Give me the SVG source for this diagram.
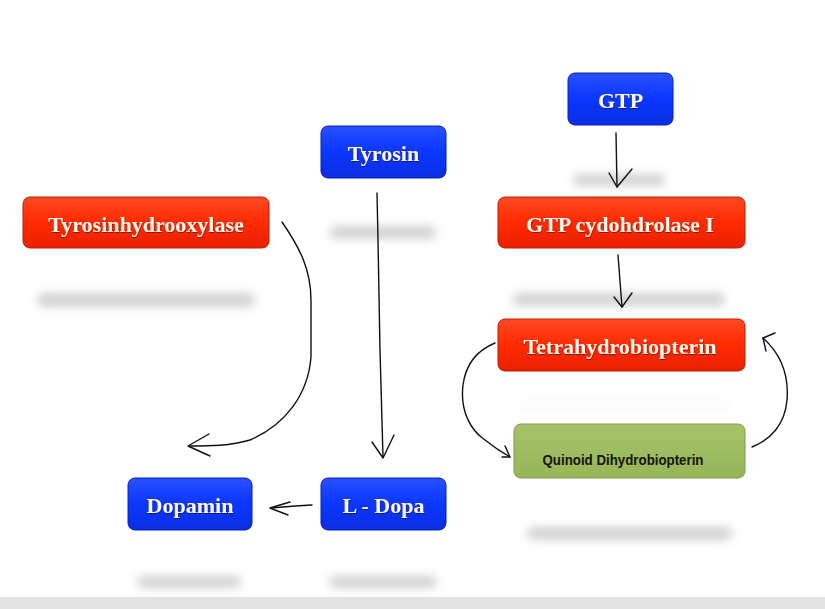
<svg xmlns="http://www.w3.org/2000/svg" width="825" height="609" viewBox="0 0 825 609">
<defs>
<linearGradient id="gRed" x1="0" y1="0" x2="0" y2="1">
<stop offset="0" stop-color="#ff4a26"/><stop offset="0.5" stop-color="#ff2a00"/><stop offset="1" stop-color="#e82000"/>
</linearGradient>
<linearGradient id="gBlue" x1="0" y1="0" x2="0" y2="1">
<stop offset="0" stop-color="#2a50ff"/><stop offset="0.5" stop-color="#0a36ff"/><stop offset="1" stop-color="#0a2ee0"/>
</linearGradient>
<linearGradient id="gGreen" x1="0" y1="0" x2="0" y2="1">
<stop offset="0" stop-color="#a6c36a"/><stop offset="1" stop-color="#96b558"/>
</linearGradient>
<filter id="blur" x="-20%" y="-150%" width="140%" height="400%"><feGaussianBlur stdDeviation="5"/></filter>
<filter id="tshadow" x="-10%" y="-30%" width="120%" height="160%"><feDropShadow dx="0.5" dy="1" stdDeviation="0.6" flood-color="#000" flood-opacity="0.45"/></filter>
</defs>
<style>
.red{fill:url(#gRed);stroke:#c01c00;stroke-width:1}
.blue{fill:url(#gBlue);stroke:#0722b8;stroke-width:1}
.green{fill:url(#gGreen);stroke:#7d9a48;stroke-width:1}
.lbl{font-family:"Liberation Serif","Times New Roman",serif;font-weight:bold;font-size:22px;fill:#fff6ee;text-anchor:middle}
.lblg{font-family:"Liberation Sans",Arial,sans-serif;font-weight:bold;font-size:15px;fill:#141408;text-anchor:middle}
.shadow{fill:#d2d2d2;filter:url(#blur)}
.conn path{fill:none;stroke:#111;stroke-width:1.4;stroke-linecap:round;stroke-linejoin:round}
</style>
<rect x="0" y="0" width="825" height="609" fill="#ffffff"/>
<rect x="0" y="597" width="825" height="12" fill="#e3e3e3"/>
<g id="shadows">
<rect class="shadow" x="37" y="293" width="218" height="14" rx="7"/>
<rect class="shadow" x="330" y="226" width="106" height="13" rx="6"/>
<rect class="shadow" x="573" y="174" width="92" height="12" rx="6"/>
<rect class="shadow" x="513" y="293" width="212" height="13" rx="6"/>
<rect class="shadow" x="520" y="400" width="210" height="10" rx="5" opacity="0.12"/>
<rect class="shadow" x="527" y="527" width="205" height="13" rx="6"/>
<rect class="shadow" x="137" y="576" width="104" height="12" rx="6"/>
<rect class="shadow" x="329" y="576" width="108" height="12" rx="6"/>
</g>
<g id="node-gtp"><rect class="blue" x="568" y="73" width="105" height="52" rx="7"/><text class="lbl" x="620.5" y="108" filter="url(#tshadow)">GTP</text></g>
<g id="node-tyrosin"><rect class="blue" x="321" y="126" width="125" height="52" rx="7"/><text class="lbl" x="383.5" y="161" filter="url(#tshadow)">Tyrosin</text></g>
<g id="node-tyrosinhydrooxylase"><rect class="red" x="23" y="197" width="246" height="51" rx="7"/><text class="lbl" x="146" y="232" filter="url(#tshadow)">Tyrosinhydrooxylase</text></g>
<g id="node-gtp-cydohdrolase"><rect class="red" x="498" y="197" width="247" height="51" rx="7"/><text class="lbl" x="620" y="232" filter="url(#tshadow)">GTP cydohdrolase I</text></g>
<g id="node-tetrahydrobiopterin"><rect class="red" x="498" y="319" width="247" height="52" rx="7"/><text class="lbl" x="620" y="354" filter="url(#tshadow)">Tetrahydrobiopterin</text></g>
<g id="node-quinoid"><rect class="green" x="514" y="424" width="231" height="54" rx="7"/><text class="lblg" x="623" y="465" textLength="161" lengthAdjust="spacingAndGlyphs">Quinoid Dihydrobiopterin</text></g>
<g id="node-dopamin"><rect class="blue" x="128" y="478" width="124" height="52" rx="7"/><text class="lbl" x="190" y="513" filter="url(#tshadow)">Dopamin</text></g>
<g id="node-ldopa"><rect class="blue" x="321" y="478" width="125" height="52" rx="7"/><text class="lbl" x="383.5" y="513" filter="url(#tshadow)">L - Dopa</text></g>
<g id="connectors" class="conn">
<path d="M377,193 L378,240 L380,350 L383,457"/>
<path d="M372,442 L383,458 L394,435"/>
<path d="M282,222 C300,248 311,270 311,300 L311,357 C308,395 285,425 250,440 C230,446 210,446 189,446"/>
<path d="M209,434 L188,446 L210,456"/>
<path d="M312,505 L295,506 L271,508"/>
<path d="M290,502 L270,508 L288,515"/>
<path d="M616,133 L617,187"/>
<path d="M609,173 L617,187 L632,169"/>
<path d="M618,255 L622,307"/>
<path d="M614,297 L622,307 L632,293"/>
<path d="M495,343 C478,350 466,362 463,385 C460,410 470,430 485,440 C495,448 503,453 510,457"/>
<path d="M505,446 L510,457 L502,457"/>
<path d="M752,447 C770,440 785,425 787,400 C789,375 782,355 763,338"/>
<path d="M775,333 L763,338 L766,351"/>
</g>
</svg>
